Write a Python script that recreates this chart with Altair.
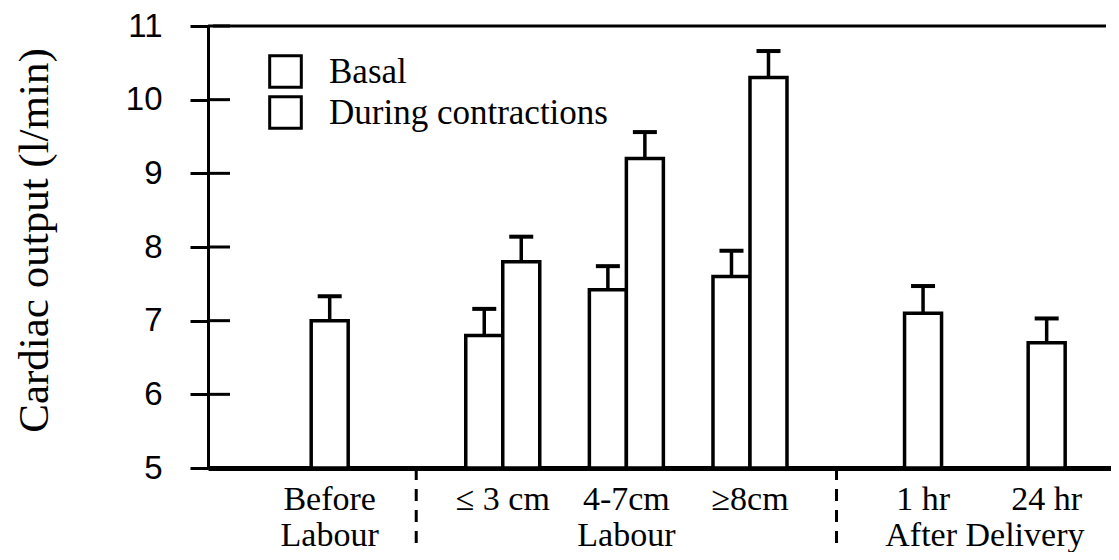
import altair as alt
import pandas as pd

# ---- data ----
categories = ["Before", "≤ 3 cm", "4-7cm", "≥8cm", "1 hr", "24 hr"]
phases = ["Before Labour", "Labour", "Labour", "Labour", "After Delivery", "After Delivery"]
phase_second_line = {"Before Labour": "Labour", "Labour": "Labour", "After Delivery": "After Delivery"}
series_names = ["Basal", "During contractions"]
basal = [7.0, 6.8, 7.42, 7.6, 7.1, 6.7]
basal_err = [0.33, 0.36, 0.32, 0.35, 0.37, 0.33]
contractions = [None, 7.8, 9.2, 10.3, None, None]
contractions_err = [None, 0.34, 0.36, 0.36, None, None]
y_ticks = [5, 6, 7, 8, 9, 10, 11]

# ---- layout: category slots with an extra gap between phases ----
PHASE_GAP = 0.4
phase_order = list(dict.fromkeys(phases))
pos = [i + PHASE_GAP * phase_order.index(p) for i, p in enumerate(phases)]

rows = []
for i, cat in enumerate(categories):
    paired = contractions[i] is not None
    rows.append(dict(pos=pos[i], cat=cat, series=series_names[0], value=basal[i],
                     upper=basal[i] + basal_err[i], slot="left" if paired else "single"))
    if paired:
        rows.append(dict(pos=pos[i], cat=cat, series=series_names[1], value=contractions[i],
                         upper=contractions[i] + contractions_err[i], slot="right"))
df = pd.DataFrame(rows)

cat_df = pd.DataFrame({"pos": pos, "label": categories})

phase_rows = []
for ph in phase_order:
    members = [pos[i] for i, p in enumerate(phases) if p == ph]
    phase_rows.append(dict(pos=sum(members) / len(members), label=phase_second_line[ph]))
phase_df = pd.DataFrame(phase_rows)

sep_df = pd.DataFrame({"pos": [(pos[i] + pos[i - 1]) / 2 for i in range(1, len(phases))
                               if phases[i] != phases[i - 1]]})
tick_df = pd.DataFrame({"value": y_ticks})
top_df = pd.DataFrame({"value": [max(y_ticks)]})

# ---- scales / styles ----
X_MIN, X_MAX = -0.944, 6.28
PLOT_W, PLOT_H = 903, 442
xs = alt.Scale(domain=[X_MIN, X_MAX], nice=False, zero=False)
ys = alt.Scale(domain=[min(y_ticks), max(y_ticks)], nice=False, zero=False)
SERIF = "Liberation Serif"
SANS = "Liberation Sans"
BAR_W = 37
offsets = {"single": 0, "left": -BAR_W / 2, "right": BAR_W / 2}

fill_enc = alt.Fill(
    "series:N",
    scale=alt.Scale(domain=series_names, range=["white", "white"]),
    legend=alt.Legend(
        title=None, orient="none", legendX=60, legendY=28, padding=0,
        symbolType="square", symbolSize=1000, symbolStrokeColor="black",
        symbolStrokeWidth=3, symbolFillColor="white", symbolOpacity=1,
        labelFont=SERIF, labelFontSize=35, labelColor="black", labelOffset=26,
        labelLimit=0, rowPadding=-4,
    ),
)

y_axis = alt.Axis(
    values=y_ticks, format="d", grid=False, domain=True, domainColor="black", domainWidth=3,
    ticks=True, tickSize=18, tickWidth=3, tickColor="black",
    labelFont=SANS, labelFontSize=33, labelColor="black", labelPadding=28,
    labelOverlap=False,
    title="Cardiac output (l/min)", titleFont=SERIF, titleFontSize=43,
    titleFontWeight="normal", titleColor="black", titleAngle=270,
    titleX=-174, titleY=214, titleAlign="center", titleBaseline="middle",
)
x_axis = alt.Axis(labels=False, ticks=False, grid=False, domain=True,
                  domainColor="black", domainWidth=5, title=None)

X = alt.X("pos:Q", scale=xs, axis=x_axis)


def Y(field):
    return alt.Y(field, scale=ys, axis=y_axis)


layers = []
for slot, off in offsets.items():
    base = alt.Chart(df[df.slot == slot])
    bars = base.mark_bar(orient="vertical", size=BAR_W, xOffset=off, stroke="black",
                         strokeWidth=3.5).encode(
        x=X, y=Y("value:Q"), y2=alt.datum(min(y_ticks)), fill=fill_enc,
    )
    stems = base.mark_rule(xOffset=off, strokeWidth=3.5, color="black").encode(
        x=X, y=Y("value:Q"), y2="upper:Q",
    )
    caps = base.mark_tick(xOffset=off, orient="horizontal", size=24, thickness=4,
                          color="black", opacity=1).encode(
        x=X, y=Y("upper:Q"),
    )
    layers += [bars, stems, caps]

inner_ticks = alt.Chart(tick_df).mark_rule(strokeWidth=3, color="black").encode(
    y=Y("value:Q"), x=alt.value(0), x2=alt.value(22)
)
top_line = alt.Chart(top_df).mark_rule(strokeWidth=3, color="black").encode(
    y=Y("value:Q"), x=alt.datum(X_MIN), x2=alt.datum(X_MAX)
)
cat_text = alt.Chart(cat_df).mark_text(font=SERIF, fontSize=34, color="black",
                                       baseline="alphabetic", align="center").encode(
    x=X, y=alt.value(484), text="label:N"
)
phase_text = alt.Chart(phase_df).mark_text(font=SERIF, fontSize=34, color="black",
                                           baseline="alphabetic", align="center").encode(
    x=X, y=alt.value(520), text="label:N"
)
separators = alt.Chart(sep_df).mark_rule(strokeWidth=3, color="black",
                                         strokeDash=[12, 9]).encode(
    x=X, y=alt.datum(min(y_ticks)), y2=alt.value(527)
)

chart = alt.layer(*layers, inner_ticks, top_line, separators, cat_text, phase_text).properties(
    width=PLOT_W, height=PLOT_H,
    background="white",
    padding={"left": 200, "top": 18, "right": 0, "bottom": 84},
    autosize=alt.AutoSizeParams(type="none"),
).configure_view(stroke=None)

chart.save("out.html", embed_options={"renderer": "svg", "actions": False})
